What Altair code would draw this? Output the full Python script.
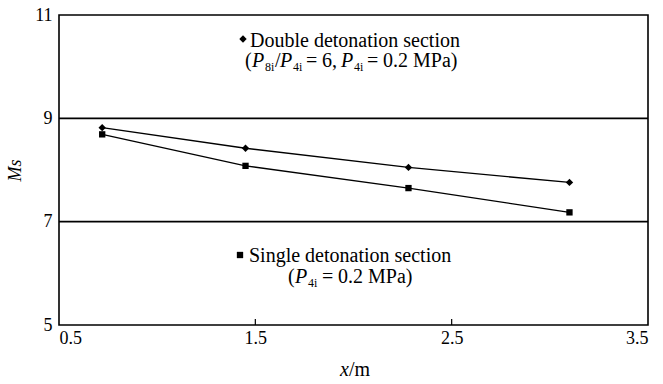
import altair as alt
import pandas as pd

# ---- data ----
x_m = [0.72, 1.45, 2.28, 3.10]
ms_double = [8.82, 8.42, 8.05, 7.76]
ms_single = [8.69, 8.08, 7.65, 7.18]
x_ticks = [0.5, 1.5, 2.5, 3.5]
y_ticks = [5, 7, 9, 11]
boundaries = [9, 7]
inner_ticks = [1.5, 2.5]

W, H = 589, 310
LEFT, TOP = 59, 15
X0, X1, Y0, Y1 = 0.5, 3.5, 5, 11
PXX = W / (X1 - X0)
PXY = H / (Y1 - Y0)
FONT = "Liberation Serif"
FS = 18      # axis labels / titles
AFS = 20     # annotation text
SUB = 12     # subscripts


def dx(px):
    return X0 + (px - LEFT) / PXX


def dy(px):
    return Y1 - (px - TOP) / PXY


# annotation segments: (text, kind, left pixel, baseline pixel)
# kind: n = normal, i = italic, s = subscript
segments = [
    ("Double detonation section", "n", 250, 47),
    ("(", "n", 245, 67), ("P", "i", 252, 67), ("8i", "s", 265, 71), ("/", "n", 275, 67),
    ("P", "i", 280, 67), ("4i", "s", 293, 71), ("=", "n", 306, 67), ("6,", "n", 322, 67),
    ("P", "i", 341, 67), ("4i", "s", 354, 71), ("=", "n", 367, 67),
    ("0.2 MPa)", "n", 383, 67),
    ("Single detonation section", "n", 249, 262),
    ("(", "n", 288, 283), ("P", "i", 295, 283), ("4i", "s", 308, 287),
    ("=", "n", 322, 283), ("0.2 MPa)", "n", 338, 283),
    ("x", "i", 340, 376), ("/m", "n", 349, 376),
]
adf = pd.DataFrame([{"x": dx(a), "y": dy(b), "t": t, "kind": k} for t, k, a, b in segments])

rows = []
for xv, d, s in zip(x_m, ms_double, ms_single):
    rows.append({"x": xv, "ms": d, "series": "double"})
    rows.append({"x": xv, "ms": s, "series": "single"})
df = pd.DataFrame(rows)

key_df = pd.DataFrame([
    {"x": dx(243), "ms": dy(39), "series": "double"},
    {"x": dx(240), "ms": dy(255), "series": "single"},
])

xs = alt.Scale(domain=[X0, X1], nice=False, zero=False)
ys = alt.Scale(domain=[Y0, Y1], nice=False, zero=False)
shape_scale = alt.Scale(domain=["double", "single"], range=["diamond", "square"])
size_scale = alt.Scale(domain=["double", "single"], range=[55, 40])

xenc = alt.X("x:Q", scale=xs,
             axis=alt.Axis(values=x_ticks, format=".1f", title=None, labelPadding=4))
yenc = alt.Y("ms:Q", scale=ys,
             axis=alt.Axis(values=y_ticks, format="d", title="Ms", titleFontStyle="italic",
                           titlePadding=10, labelPadding=7))

lines = alt.Chart(df).mark_line(color="black", strokeWidth=1.4).encode(
    x=xenc, y=yenc, detail="series:N")
pts = alt.Chart(df).mark_point(filled=True, color="black", opacity=1).encode(
    x=alt.X("x:Q", scale=xs), y=alt.Y("ms:Q", scale=ys),
    shape=alt.Shape("series:N", scale=shape_scale, legend=None),
    size=alt.Size("series:N", scale=size_scale, legend=None))
keys = alt.Chart(key_df).mark_point(filled=True, color="black", opacity=1).encode(
    x=alt.X("x:Q", scale=xs), y=alt.Y("ms:Q", scale=ys),
    shape=alt.Shape("series:N", scale=shape_scale, legend=None),
    size=alt.Size("series:N", scale=size_scale, legend=None))

bdf = pd.DataFrame({"ms": boundaries})
rules = alt.Chart(bdf).mark_rule(color="black", strokeWidth=1.6).encode(
    y=alt.Y("ms:Q", scale=ys))

tdf = pd.DataFrame({"x": inner_ticks, "y": [Y0] * len(inner_ticks),
                    "y2": [Y0 + 6 / PXY] * len(inner_ticks)})
ticks = alt.Chart(tdf).mark_rule(color="black", strokeWidth=1.2).encode(
    x=alt.X("x:Q", scale=xs), y=alt.Y("y:Q", scale=ys), y2="y2:Q")


def text_layer(kind, style, size):
    return alt.Chart(adf[adf.kind == kind]).mark_text(
        align="left", baseline="alphabetic", font=FONT, fontSize=size,
        fontStyle=style, color="black").encode(
        x=alt.X("x:Q", scale=xs), y=alt.Y("y:Q", scale=ys), text="t:N")


texts = (text_layer("n", "normal", AFS) + text_layer("i", "italic", AFS)
         + text_layer("s", "normal", SUB))

chart = alt.layer(rules, ticks, lines, pts, keys, texts).properties(
    width=W, height=H,
    background="white",
    autosize=alt.AutoSizeParams(type="none"),
    padding={"left": LEFT, "top": TOP, "right": 15, "bottom": 59},
).configure_view(stroke="black", strokeWidth=1.6).configure_axis(
    domain=False, ticks=False, grid=False,
    labelFont=FONT, labelFontSize=FS, labelColor="black",
    titleFont=FONT, titleFontSize=FS, titleColor="black", titleFontWeight="normal",
)

chart.save("out.html", embed_options={"renderer": "svg", "actions": False})
